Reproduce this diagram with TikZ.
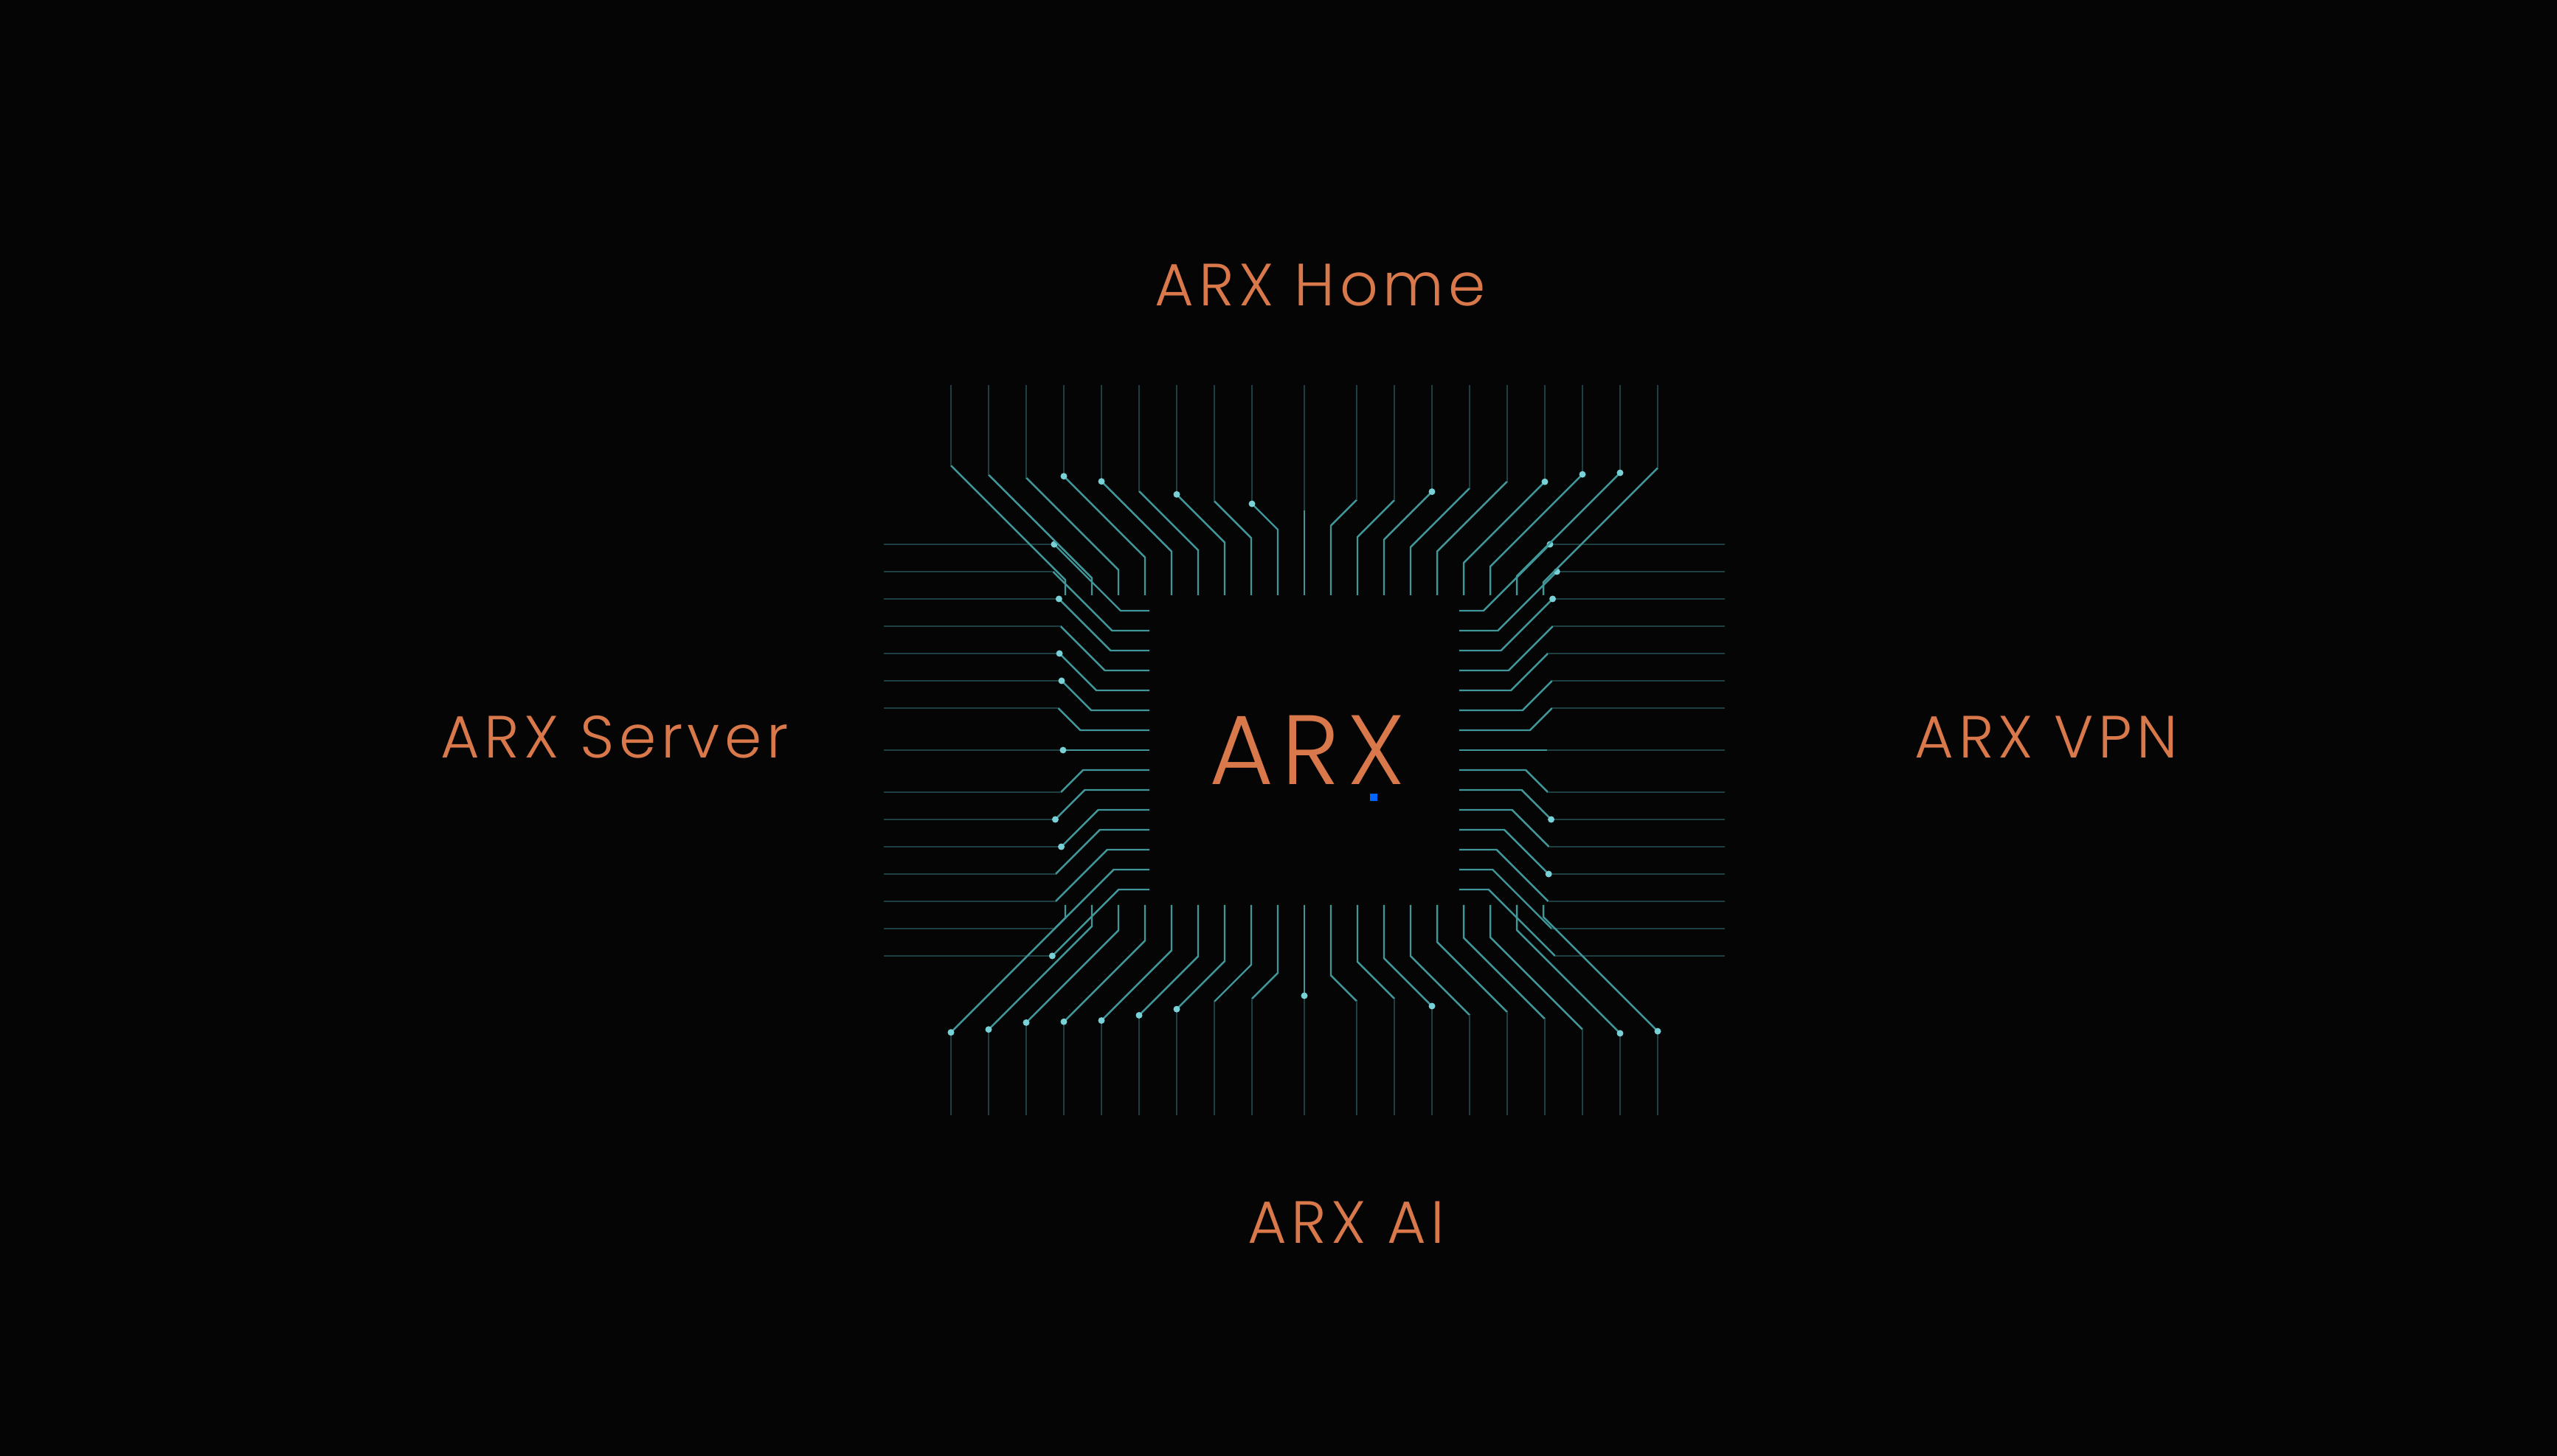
\documentclass[tikz,border=0pt]{standalone}
\usepackage{fontspec}
\setmainfont{Poppins Light}[LetterSpace=8]
\begin{document}
\begin{tikzpicture}
\definecolor{bg}{HTML}{050505}
\definecolor{org}{HTML}{D9784A}
\definecolor{tealc}{HTML}{55C6CC}
\tikzset{tr/.style={draw=tealc!75!bg,line width=0.7pt},
  trout/.style={draw=tealc!30!bg,line width=0.6pt},
  dot/.style={fill=tealc!80!white},
  lbl/.style={text=org,font=\fontsize{23}{26}\selectfont}}
\fill[bg] (0,0) rectangle (34.66,19.74);
\useasboundingbox (0,0) rectangle (34.66,19.74);
\coordinate (C) at (17.68,9.57);
\pgfmathsetseed{11}
\foreach \r/\L/\n/\sp/\bs in {0/5.7/7/0.27/0.1,180/5.7/7/0.27/0.1,90/4.95/9/0.36/0.15,270/4.95/9/0.36/0.15}{
 \begin{scope}[shift={(C)},rotate=\r]
  \foreach \k in {-\n,...,\n}{
   \pgfmathsetmacro{\o}{\k*\sp}
   \pgfmathsetmacro{\s}{\k<0 ? -1 : (\k>0 ? 1 : 0)}
   \pgfmathsetmacro{\a}{0.95-0.09*abs(\k)+0.12*rnd}
   \pgfmathsetmacro{\b}{\bs*abs(\k)+0.2}
   \pgfmathsetmacro{\xa}{2.1+\a}
   \pgfmathsetmacro{\xb}{2.1+\a+\b}
   \pgfmathsetmacro{\yb}{\o+\s*\b}
   \draw[tr] (2.1,\o) -- (\xa,\o) -- (\xb,\yb);
   \draw[trout] (\xb,\yb) -- (\L,\yb);
   \pgfmathsetmacro{\dp}{rnd}
   \ifdim\dp pt<0.45pt \fill[dot] (\xb,\yb) circle (0.045);\fi
  }
 \end{scope}}
\node[lbl] (home) at (17.9,15.87) {ARX Home};
\node[lbl] (server) at (8.33,9.75) {ARX Server};
\node[lbl] (vpn) at (27.74,9.75) {ARX VPN};
\node[lbl] (ai) at (18.25,3.17) {ARX AI};
\node[text=org,font=\fontsize{38}{40}\selectfont] (arx) at (17.72,9.57) {ARX};
\fill[blue!60!cyan] (18.57,8.88) rectangle (18.67,8.98);
\end{tikzpicture}
\end{document}
